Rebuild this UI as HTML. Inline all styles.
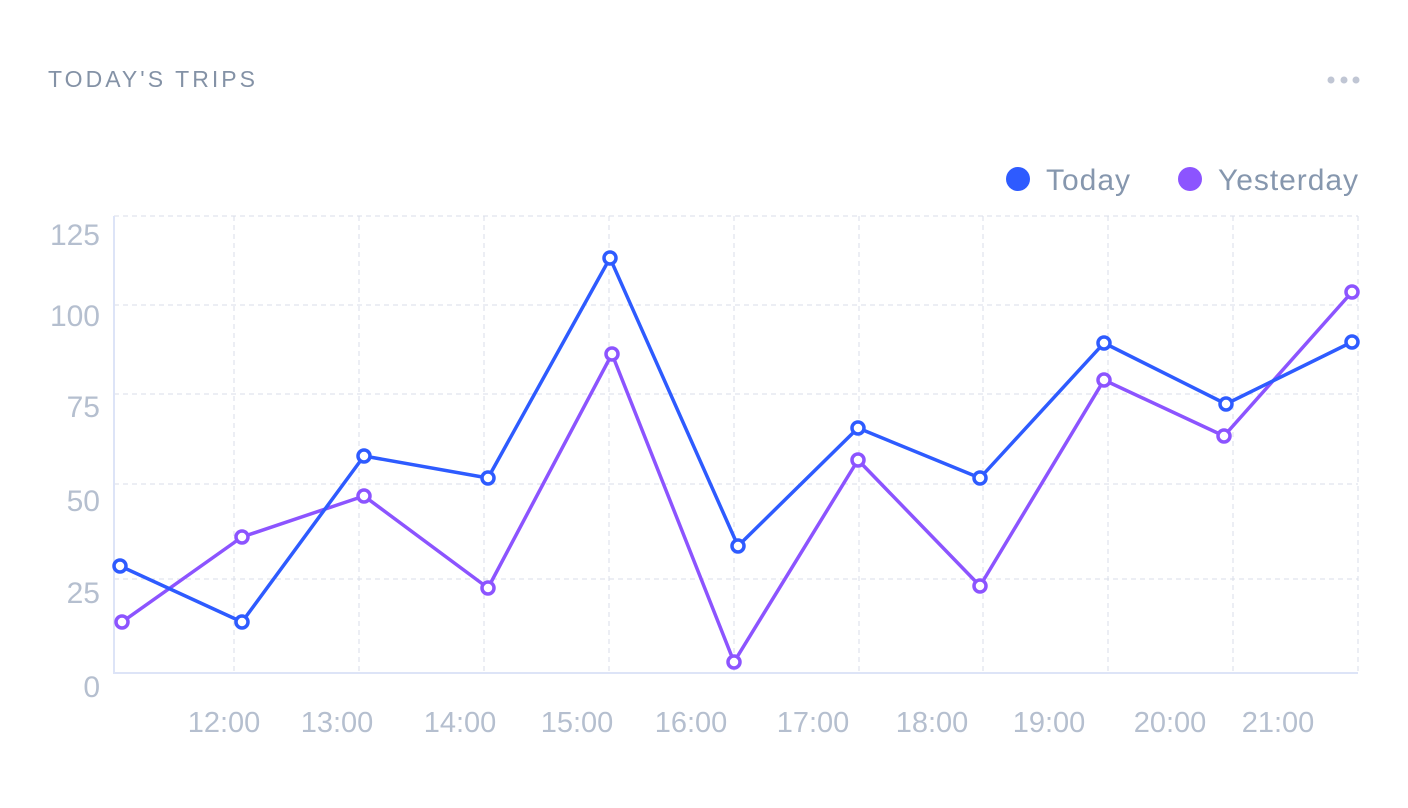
<!DOCTYPE html>
<html><head><meta charset="utf-8"><style>
html,body{margin:0;padding:0;background:#fff;width:1408px;height:808px;overflow:hidden}
svg{display:block}
text{font-family:"Liberation Sans",sans-serif}
</style></head><body>
<svg width="1408" height="808" xmlns="http://www.w3.org/2000/svg">
<text x="48" y="87" font-size="23" fill="#8492a6" letter-spacing="3" textLength="210">TODAY'S TRIPS</text>
<circle cx="1331" cy="80" r="3.5" fill="#c0c6d4"/><circle cx="1344" cy="80" r="3.5" fill="#c0c6d4"/><circle cx="1356" cy="80" r="3.5" fill="#c0c6d4"/>
<circle cx="1018" cy="179" r="12" fill="#2e5bff"/>
<text x="1046" y="190" font-size="30" fill="#8697ae" textLength="84">Today</text>
<circle cx="1190" cy="179" r="12" fill="#8c54ff"/>
<text x="1218" y="190" font-size="30" fill="#8697ae" textLength="140">Yesterday</text>
<g stroke="#d9dde8" stroke-width="1" stroke-dasharray="5,4" fill="none">
<line x1="114" y1="216" x2="1358" y2="216"/>
<line x1="114" y1="305" x2="1358" y2="305"/>
<line x1="114" y1="394" x2="1358" y2="394"/>
<line x1="114" y1="484" x2="1358" y2="484"/>
<line x1="114" y1="579" x2="1358" y2="579"/>
<line x1="234" y1="216" x2="234" y2="673"/><line x1="359" y1="216" x2="359" y2="673"/>
<line x1="484" y1="216" x2="484" y2="673"/><line x1="609" y1="216" x2="609" y2="673"/>
<line x1="734" y1="216" x2="734" y2="673"/><line x1="859" y1="216" x2="859" y2="673"/>
<line x1="983" y1="216" x2="983" y2="673"/><line x1="1108" y1="216" x2="1108" y2="673"/>
<line x1="1233" y1="216" x2="1233" y2="673"/><line x1="1358" y1="216" x2="1358" y2="673"/>
</g>
<line x1="114" y1="216" x2="114" y2="674" stroke="#dde4f7" stroke-width="2"/>
<line x1="114" y1="673" x2="1358" y2="673" stroke="#dde4f7" stroke-width="2"/>
<g font-size="30" fill="#b5bfcf" text-anchor="end">
<text x="100" y="245">125</text><text x="100" y="326">100</text><text x="100" y="417">75</text>
<text x="100" y="511">50</text><text x="100" y="603">25</text><text x="100" y="697">0</text>
</g>
<g font-size="29" fill="#b5bfcf" text-anchor="middle">
<text x="224" y="732">12:00</text><text x="337" y="732">13:00</text><text x="460" y="732">14:00</text>
<text x="577" y="732">15:00</text><text x="691" y="732">16:00</text><text x="813" y="732">17:00</text>
<text x="932" y="732">18:00</text><text x="1049" y="732">19:00</text><text x="1170" y="732">20:00</text>
<text x="1278" y="732">21:00</text>
</g>
<polyline fill="none" stroke="#8c54ff" stroke-width="3.5" stroke-linejoin="round" points="122,622 242,537 364,496 488,588 612,354 734,662 858,460 980,586 1104,380 1224,436 1352,292"/>
<polyline fill="none" stroke="#2e5bff" stroke-width="3.5" stroke-linejoin="round" points="120,566 242,622 364,456 488,478 610,258 738,546 858,428 980,478 1104,343 1226,404 1352,342"/>
<g fill="#fff" stroke="#8c54ff" stroke-width="3.5">
<circle cx="122" cy="622" r="6"/><circle cx="242" cy="537" r="6"/><circle cx="364" cy="496" r="6"/><circle cx="488" cy="588" r="6"/><circle cx="612" cy="354" r="6"/><circle cx="734" cy="662" r="6"/><circle cx="858" cy="460" r="6"/><circle cx="980" cy="586" r="6"/><circle cx="1104" cy="380" r="6"/><circle cx="1224" cy="436" r="6"/><circle cx="1352" cy="292" r="6"/>
</g>
<g fill="#fff" stroke="#2e5bff" stroke-width="3.5">
<circle cx="120" cy="566" r="6"/><circle cx="242" cy="622" r="6"/><circle cx="364" cy="456" r="6"/><circle cx="488" cy="478" r="6"/><circle cx="610" cy="258" r="6"/><circle cx="738" cy="546" r="6"/><circle cx="858" cy="428" r="6"/><circle cx="980" cy="478" r="6"/><circle cx="1104" cy="343" r="6"/><circle cx="1226" cy="404" r="6"/><circle cx="1352" cy="342" r="6"/>
</g>
</svg>
</body></html>
